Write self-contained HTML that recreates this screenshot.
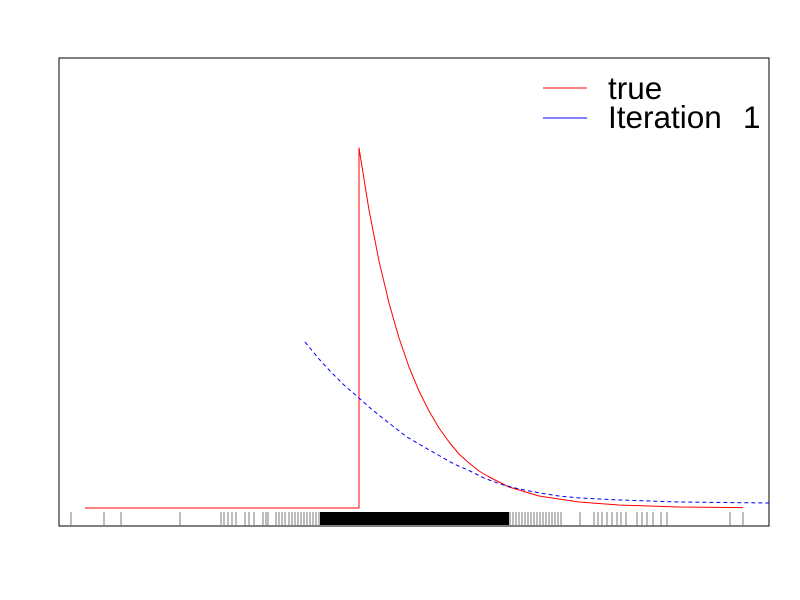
<!DOCTYPE html>
<html><head><meta charset="utf-8"><style>
body{margin:0;background:#fff}
svg{display:block;font-family:"Liberation Sans",sans-serif}
</style></head><body>
<svg id="chart" width="800" height="600">
<rect x="59" y="58" width="710" height="468" fill="none" stroke="#000" stroke-width="1"/>
<g id="rug"></g>
<g id="series"></g>
<g>
<line x1="543" y1="88" x2="587" y2="88" stroke="red"/>
<text x="608" y="99" font-size="31.5">true</text>
<line x1="543" y1="118" x2="587" y2="118" stroke="blue"/>
<text y="128" font-size="31.5"><tspan x="608">Iteration</tspan><tspan x="743">1</tspan></text>
</g>
</svg>
<script>
// data units: x in [0,71] (10px each), y in [0,46.8]
const trueX=[2.6,30.0,30.0,31.0,32.0,33.0,34.0,35.0,36.0,37.0,38.0,39.0,40.0,41.0,42.0,43.0,44.0,45.0,48.0,52.0,56.0,62.0,68.4];
const trueY=[1.8,1.8,37.8,31.6,26.5,22.3,18.8,15.9,13.5,11.5,9.8,8.4,7.2,6.3,5.5,4.9,4.4,3.9,3.0,2.4,2.1,1.9,1.84];
const iterX=[24.6,26.0,27.1,28.5,30.0,31.0,32.1,33.5,34.8,36.5,38.1,39.5,41.1,42.5,44.1,46.0,48.1,50.0,52.1,56.1,62.1,71.0];
const iterY=[18.4,16.7,15.5,14.1,12.8,11.9,11.0,9.9,8.9,7.9,7.0,6.2,5.5,4.8,4.2,3.7,3.3,3.0,2.8,2.6,2.4,2.3];
const rugX=[1.2,4.5,6.2,12.1,16.2,16.5,16.9,17.3,17.7,18.6,19.0,19.5,20.4,20.7,20.9,21.7,22.0,22.3,22.6,23.0,23.3,23.6,23.9,24.2,24.5,24.8,25.1,25.4,25.7,26.0,45.1,45.4,45.7,46.0,46.3,46.6,46.9,47.2,47.5,47.8,48.1,48.4,48.7,49.0,49.3,49.6,49.9,50.2,52.1,53.5,53.9,54.3,54.8,55.3,55.8,56.2,56.7,57.8,58.3,58.8,59.4,60.2,60.8,67.1,68.4];
const rugDense=[26.1,45.0];
const X0=59,PXX=10,Y0=526,PXY=10;
const sx=v=>X0+v*PXX, sy=v=>Y0-v*PXY;
const NS="http://www.w3.org/2000/svg";
const rug=document.getElementById('rug');
rugX.forEach((v,i)=>{const l=document.createElementNS(NS,'line');
l.setAttribute('x1',sx(v));l.setAttribute('x2',sx(v));l.setAttribute('y1',512);l.setAttribute('y2',525);
l.setAttribute('stroke','#444');l.setAttribute('stroke-width','0.7');


rug.appendChild(l);});
const d=document.createElementNS(NS,'rect');
d.setAttribute('x',sx(rugDense[0]));d.setAttribute('width',sx(rugDense[1])-sx(rugDense[0]));
d.setAttribute('y',512);d.setAttribute('height',13);d.setAttribute('fill','#000');


rug.appendChild(d);
const g=document.getElementById('series');
function poly(xs,ys,color,dash,name){const p=document.createElementNS(NS,'polyline');
p.setAttribute('points',xs.map((x,i)=>sx(x)+','+sy(ys[i])).join(' '));
p.setAttribute('fill','none');p.setAttribute('stroke',color);p.setAttribute('stroke-width','1');
p.setAttribute('stroke-linejoin','round');
if(dash)p.setAttribute('stroke-dasharray',dash);


g.appendChild(p);}
poly(trueX,trueY,'red',null,'true-line');
poly(iterX,iterY,'blue','4 3','iteration-1-line');
</script>
</body></html>
